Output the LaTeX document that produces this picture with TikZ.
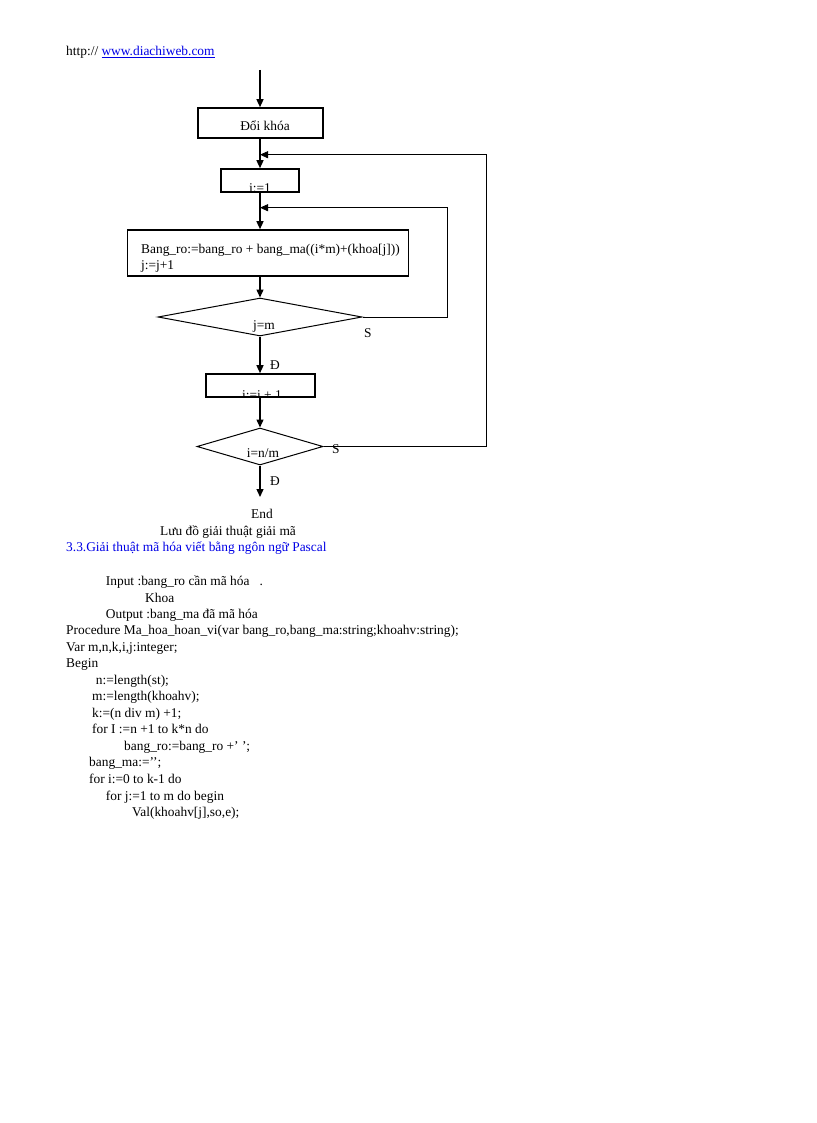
\documentclass[tikz,border=0pt]{standalone}
\usepackage{fontspec}
\setmainfont{Liberation Serif}
\usetikzlibrary{shapes.geometric,arrows.meta}
\definecolor{linkblue}{RGB}{0,0,230}
\begin{document}
\begin{tikzpicture}[x=1pt,y=-1pt,
  txt/.style={inner sep=0pt,font=\fontsize{13.4}{16}\selectfont},
  tl/.style={txt,anchor=base west},
  tc/.style={txt,anchor=base},
  boxnode/.style={draw,line width=1.6pt,rectangle,inner sep=0pt},
  dianode/.style={draw,line width=1pt,diamond,inner sep=0pt,aspect=1},
  flow/.style={line width=1.4pt,-{Triangle[length=8pt,width=7pt]}},
  back/.style={line width=0.9pt,-{Triangle[length=8pt,width=7pt]}}]
\useasboundingbox[fill=white] (0,0) rectangle (816,1123);

% header
\node[tl] (hdr) at (66,55.5) {http:// \textcolor{linkblue}{\underline{www.diachiweb.com}}};

% flowchart nodes
\coordinate (start) at (260,70);
\node[boxnode,minimum width=125pt,minimum height=30pt] (doi) at (260.5,123) {};
\node[tc] (doit) at (265,131) {Đổi khóa};

\begin{scope}
\clip (200,160) rectangle (320,191.5);
\node[tc] (j1t) at (260,193) {j:=1};
\end{scope}
\node[boxnode,minimum width=78pt,minimum height=23pt] (j1) at (260,180.5) {};

\node[boxnode,minimum width=281pt,minimum height=46pt] (big) at (268,253) {};
\node[tl] (bigt1) at (141,253) {Bang\_ro:=bang\_ro + bang\_ma((i*m)+(khoa[j]))};
\node[tl] (bigt2) at (141,269.5) {j:=j+1};

\node[dianode,minimum width=204pt,minimum height=38pt] (d1) at (260,317) {};
\node[tc] (d1t) at (264,329) {j=m};
\node[tl] (s1) at (364,337) {S};

\node[tl] (dd1) at (270,369) {Đ};
\begin{scope}
\clip (200,370) rectangle (320,396.5);
\node[tc] (it) at (262,399) {i:=i + 1};
\end{scope}
\node[boxnode,minimum width=109pt,minimum height=23pt] (ib) at (260.5,385.5) {};

\node[dianode,minimum width=126pt,minimum height=37pt] (d2) at (260,446.5) {};
\node[tc] (d2t) at (263,457) {i=n/m};
\node[tl] (s2) at (332,453) {S};
\node[tl] (dd2) at (270,485) {Đ};

\coordinate (endp) at (260,497);
\node[tc] (endt) at (262,518.5) {End};

% loop coordinates
\coordinate (m1) at (260,207.7);
\coordinate (r1) at (447,207.7);
\coordinate (m2) at (260,154.7);
\coordinate (r2) at (486.7,154.7);

% connectors
\draw[flow] (start) -- (start |- doi.north);
\draw[flow] (doi.south -| j1.north) -- (j1.north);
\draw[flow] (j1.south) -- (big.north -| j1.south);
\draw[flow] (big.south -| d1.north) -- (d1.north);
\draw[flow] (d1.south) -- (ib.north -| d1.south);
\draw[flow] (ib.south -| d2.north) -- (d2.north);
\draw[flow] (d2.south) -- (endp);
\draw[back] (d1.east) -| (r1) -- (m1);
\draw[back] (d2.east) -| (r2) -- (m2);

% caption and code
\node[tl] (cap) at (160,535) {Lưu đồ giải thuật giải mã};
\node[tl,text=linkblue] (sec) at (66,551) {3.3.Giải thuật mã hóa viết bằng ngôn ngữ Pascal};

\node[tl] (c1) at (105.7,585.5) {Input :bang\_ro cần mã hóa\ \ \ .};
\node[tl] (c2) at (145,602) {Khoa};
\node[tl] (c3) at (105.7,618) {Output :bang\_ma đã mã hóa};
\node[tl] (c4) at (66,634.5) {Procedure Ma\_hoa\_hoan\_vi(var bang\_ro,bang\_ma:string;khoahv:string);};
\node[tl] (c5) at (66,651) {Var m,n,k,i,j:integer;};
\node[tl] (c6) at (66,667) {Begin};
\node[tl] (c7) at (95.7,684) {n:=length(st);};
\node[tl] (c8) at (92,700) {m:=length(khoahv);};
\node[tl] (c9) at (92,717) {k:=(n div m) +1;};
\node[tl] (c10) at (92,733) {for I :=n +1 to k*n do};
\node[tl] (c11) at (124,750) {bang\_ro:=bang\_ro +’ ’;};
\node[tl] (c12) at (89,766) {bang\_ma:=’’;};
\node[tl] (c13) at (89,783) {for i:=0 to k-1 do};
\node[tl] (c14) at (105.7,800) {for j:=1 to m do begin};
\node[tl] (c15) at (132,816) {Val(khoahv[j],so,e);};
\end{tikzpicture}
\end{document}
